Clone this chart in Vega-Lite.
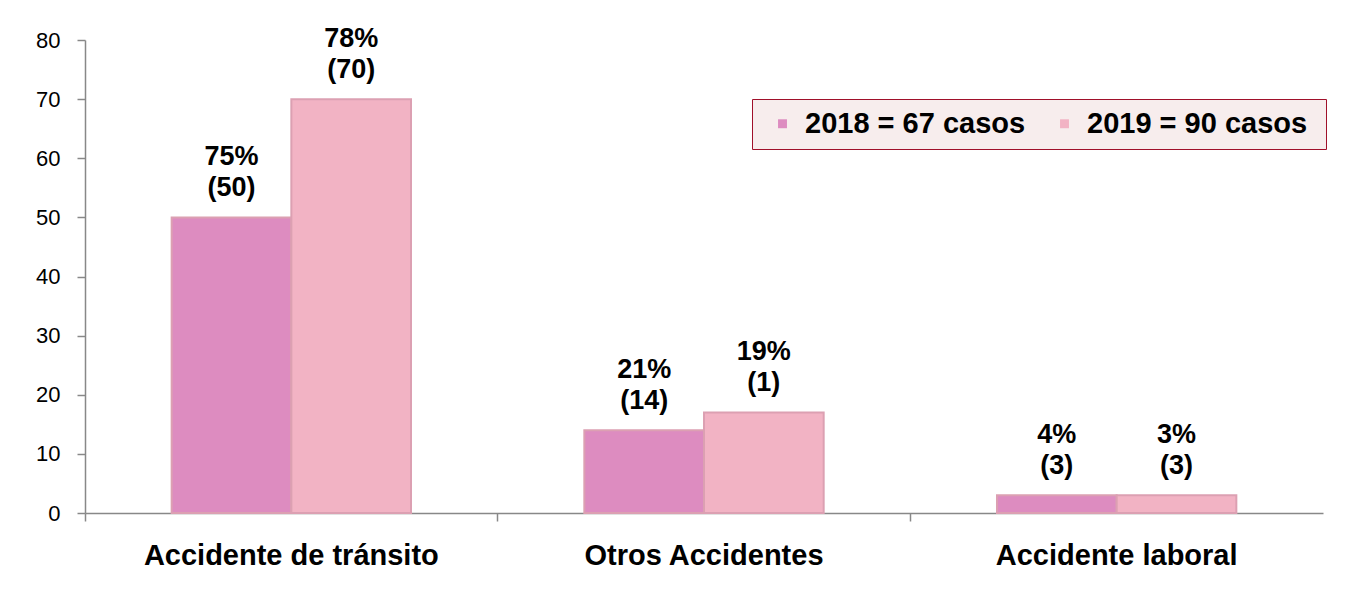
{
  "$schema": "https://vega.github.io/schema/vega-lite/v6.json",
  "width": 1238,
  "height": 473,
  "autosize": {"type": "none"},
  "padding": {"left": 85, "top": 40, "right": 31, "bottom": 77},
  "background": "white",
  "config": {
    "font": "Liberation Sans",
    "view": {"stroke": null},
    "axis": {"domainColor": "#888888", "tickColor": "#888888", "grid": false, "labelColor": "black", "domainWidth": 1.5, "tickWidth": 1.5}
  },
  "data": {
    "values": [
      {"tipo": "Accidente de tránsito", "anio": "2018", "casos": 50, "etiqueta": "75%\n (50)"},
      {"tipo": "Accidente de tránsito", "anio": "2019", "casos": 70, "etiqueta": "78%\n(70)"},
      {"tipo": "Otros Accidentes", "anio": "2018", "casos": 14, "etiqueta": "21%\n(14)"},
      {"tipo": "Otros Accidentes", "anio": "2019", "casos": 17, "etiqueta": "19%\n(1)"},
      {"tipo": "Accidente laboral", "anio": "2018", "casos": 3, "etiqueta": "4%\n(3)"},
      {"tipo": "Accidente laboral", "anio": "2019", "casos": 3, "etiqueta": "3%\n (3)"}
    ]
  },
  "encoding": {
    "x": {
      "field": "tipo", "type": "nominal",
      "sort": ["Accidente de tránsito", "Otros Accidentes", "Accidente laboral"],
      "scale": {"paddingInner": 0.42, "paddingOuter": 0.21},
      "axis": {"title": null, "labelAngle": 0, "labelFontSize": 29, "labelFontWeight": "bold", "labelPadding": 20, "labelLimit": 0, "tickSize": 8, "bandPosition": -0.362}
    },
    "xOffset": {"field": "anio", "type": "nominal", "scale": {"paddingInner": 0, "paddingOuter": 0}},
    "y": {
      "field": "casos", "type": "quantitative",
      "scale": {"domain": [0, 80], "nice": false},
      "axis": {"title": null, "values": [0, 10, 20, 30, 40, 50, 60, 70, 80], "labelFontSize": 22, "tickSize": 8, "labelPadding": 17}
    }
  },
  "layer": [
    {
      "mark": {"type": "bar", "stroke": "#dca0b2", "strokeWidth": 2},
      "encoding": {
        "color": {
          "field": "anio", "type": "nominal",
          "scale": {"domain": ["2018", "2019"], "range": ["#dd8cc0", "#f2b3c4"]},
          "legend": {
            "title": null,
            "orient": "none",
            "direction": "horizontal",
            "legendX": 667,
            "legendY": 59,
            "fillColor": "#f7eded",
            "strokeColor": "#a0102a",
            "padding": 10,
            "symbolType": "square",
            "symbolSize": 80,
            "symbolStrokeWidth": 0,
            "symbolOffset": 6,
            "labelFontSize": 29,
            "labelFontWeight": "bold",
            "labelColor": "black",
            "labelLimit": 0,
            "labelOffset": 8,
            "columnPadding": 10,
            "labelExpr": "datum.label == '2018' ? '2018 =  67 casos' : '2019 = 90  casos'"
          }
        }
      }
    },
    {
      "mark": {"type": "text", "fontSize": 27, "fontWeight": "bold", "color": "black", "lineBreak": "\n", "baseline": "alphabetic", "dy": -52, "lineHeight": 31},
      "encoding": {"text": {"field": "etiqueta"}}
    }
  ]
}
